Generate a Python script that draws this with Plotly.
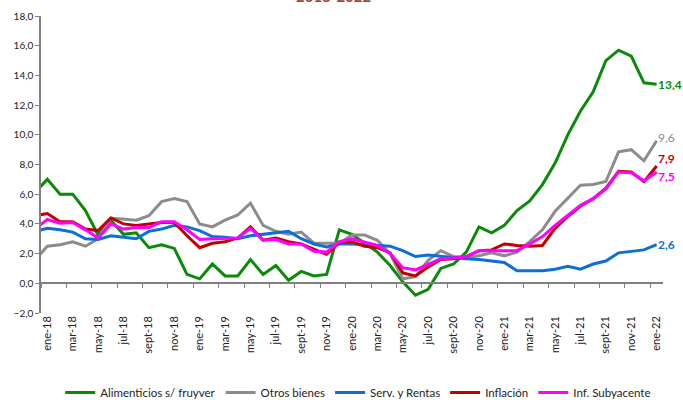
import plotly.graph_objs as go

# months, dic-17 only feeds the clipped segment at the left edge
months = ["dic-17",
          "ene-18", "feb-18", "mar-18", "abr-18", "may-18", "jun-18", "jul-18", "ago-18", "sept-18", "oct-18", "nov-18", "dic-18",
          "ene-19", "feb-19", "mar-19", "abr-19", "may-19", "jun-19", "jul-19", "ago-19", "sept-19", "oct-19", "nov-19", "dic-19",
          "ene-20", "feb-20", "mar-20", "abr-20", "may-20", "jun-20", "jul-20", "ago-20", "sept-20", "oct-20", "nov-20", "dic-20",
          "ene-21", "feb-21", "mar-21", "abr-21", "may-21", "jun-21", "jul-21", "ago-21", "sept-21", "oct-21", "nov-21", "dic-21",
          "ene-22"]

alimenticios = [6.1,
                7.0, 6.0, 6.0, 4.9, 3.25, 4.25, 3.3, 3.4, 2.4, 2.6, 2.35, 0.6,
                0.3, 1.3, 0.5, 0.5, 1.6, 0.6, 1.2, 0.2, 0.8, 0.5, 0.6, 3.6,
                3.3, 2.7, 2.1, 1.2, 0.1, -0.8, -0.4, 1.0, 1.3, 2.1, 3.8, 3.4,
                3.9, 4.9, 5.55, 6.65, 8.1, 10.0, 11.6, 12.9, 15.0, 15.7, 15.3, 13.5,
                13.4]
otros_bienes = [1.55,
                2.5, 2.6, 2.8, 2.5, 3.0, 4.4, 4.3, 4.25, 4.55, 5.5, 5.7, 5.5,
                4.0, 3.8, 4.25, 4.6, 5.4, 3.9, 3.5, 3.3, 3.45, 2.7, 2.7, 2.7,
                3.25, 3.25, 2.9, 2.0, 0.3, 0.45, 1.55, 2.2, 1.8, 1.75, 1.85, 2.05,
                1.85, 2.1, 2.8, 3.6, 4.85, 5.7, 6.6, 6.65, 6.85, 8.85, 9.0, 8.25,
                9.6]
serv_rentas = [3.5,
               3.7, 3.6, 3.45, 3.0, 2.95, 3.2, 3.1, 3.0, 3.5, 3.65, 3.9, 3.8,
               3.55, 3.15, 3.1, 3.0, 3.2, 3.3, 3.45, 3.5, 3.0, 2.65, 2.45, 2.65,
               2.65, 2.6, 2.5, 2.5, 2.2, 1.8, 1.9, 1.8, 1.7, 1.65, 1.6, 1.5,
               1.4, 0.85, 0.85, 0.85, 0.95, 1.15, 0.95, 1.3, 1.5, 2.05, 2.15, 2.25,
               2.6]
inflacion = [4.55,
             4.7, 4.15, 4.15, 3.65, 3.55, 4.4, 4.0, 3.9, 4.0, 4.1, 4.1, 3.2,
             2.4, 2.7, 2.8, 3.05, 3.8, 2.9, 3.05, 2.8, 2.65, 2.3, 1.95, 2.75,
             2.8, 2.5, 2.4, 2.05, 0.7, 0.5, 1.1, 1.6, 1.65, 1.8, 2.2, 2.25,
             2.65, 2.55, 2.5, 2.55, 3.7, 4.5, 5.2, 5.7, 6.4, 7.55, 7.5, 6.85,
             7.9]
subyacente = [3.65,
              4.3, 4.05, 4.1, 3.6, 3.05, 4.0, 3.65, 3.75, 3.75, 4.15, 4.15, 3.6,
              2.95, 3.0, 3.05, 3.05, 3.7, 2.9, 2.95, 2.65, 2.65, 2.15, 2.1, 2.8,
              3.0, 2.8, 2.55, 2.0, 1.05, 0.9, 1.3, 1.65, 1.7, 1.8, 2.2, 2.2,
              2.15, 2.2, 2.65, 3.15, 3.9, 4.6, 5.25, 5.7, 6.35, 7.5, 7.45, 6.9,
              7.5]

series_names = ["Alimenticios s/ fruyver", "Otros bienes", "Serv. y Rentas", "Inflación", "Inf. Subyacente"]
# same order as the series
end_labels = ["13,4", "9,6", "2,6", "7,9", "7,5"]


def main():
    x = list(range(-1, len(months) - 1))
    colors = ["#0a8a0a", "#8c8c8c", "#0b6fd6", "#c00000", "#ff00ff"]
    all_series = [alimenticios, otros_bienes, serv_rentas, inflacion, subyacente]
    # last series goes on the overlay axis so both x axes carry data
    axes = ["x", "x", "x", "x", "x2"]

    fig = go.Figure()
    for name, ys, c, ax in zip(series_names, all_series, colors, axes):
        fig.add_trace(go.Scatter(x=x, y=ys, name=name, mode="lines",
                                 line=dict(color=c, width=3), xaxis=ax))

    # value labels at the last month
    shifts = [0, 3, 0, 7, -5]
    for ys, c, txt, dy in zip(all_series, colors, end_labels, shifts):
        fig.add_annotation(x=x[-1], y=ys[-1], xref="x", yref="y", text=txt,
                           showarrow=False, xanchor="left", yanchor="middle",
                           xshift=-1, yshift=dy,
                           font=dict(family="Lato", size=12, color=c,
                                     weight="normal" if txt == "9,6" else "bold"))

    # title (only its lower edge shows in the frame)
    fig.add_annotation(x=0.47, y=1.03, xref="paper", yref="paper",
                       text="<b>2018-2022</b>", showarrow=False,
                       xanchor="center", yanchor="bottom",
                       font=dict(family="Lato", size=15, color="#a3423c"))

    label_idx = list(range(0, 49, 2))
    fig.update_layout(
        template="none",
        width=683, height=400,
        margin=dict(l=41, r=20, t=16, b=87, autoexpand=False),
        plot_bgcolor="white", paper_bgcolor="white",
        font=dict(family="Lato", size=11, color="#222222"),
        showlegend=True,
        legend=dict(orientation="h", x=0.51, xanchor="center", y=-0.268, yanchor="middle",
                    font=dict(size=11.5, color="#222222"), itemwidth=30,
                    traceorder="normal", bgcolor="rgba(0,0,0,0)"),
        # tick labels along the bottom edge
        xaxis=dict(range=[-0.5, 48.5], anchor="y",
                   tickvals=label_idx, ticktext=[months[i + 1] for i in label_idx],
                   tickangle=-90, ticks="", showline=False, showgrid=False,
                   zeroline=False, tickfont=dict(size=11), automargin=False),
        # axis line with tick marks sitting at y = 0
        xaxis2=dict(range=[-0.5, 48.5], overlaying="x", anchor="free", position=0.1,
                    side="bottom", tickvals=[i - 0.5 for i in label_idx],
                    showticklabels=False, ticks="outside", ticklen=4,
                    tickcolor="#808080", showline=True, linecolor="#808080",
                    linewidth=1.5, showgrid=False, zeroline=False, automargin=False),
        yaxis=dict(range=[-2, 18], dtick=2, tickformat=".1f", showgrid=False,
                   zeroline=False, showline=True, linecolor="#808080", linewidth=1.5,
                   ticks="outside", ticklen=4, tickcolor="#808080",
                   tickfont=dict(size=10), automargin=False),
        separators=",.",
    )

    # drop the default page margin so the figure sits at the window corner
    fig.write_html("out.html", config={"displayModeBar": False},
                   post_script="document.body.style.margin='0';")


if __name__ == "__main__":
    main()
